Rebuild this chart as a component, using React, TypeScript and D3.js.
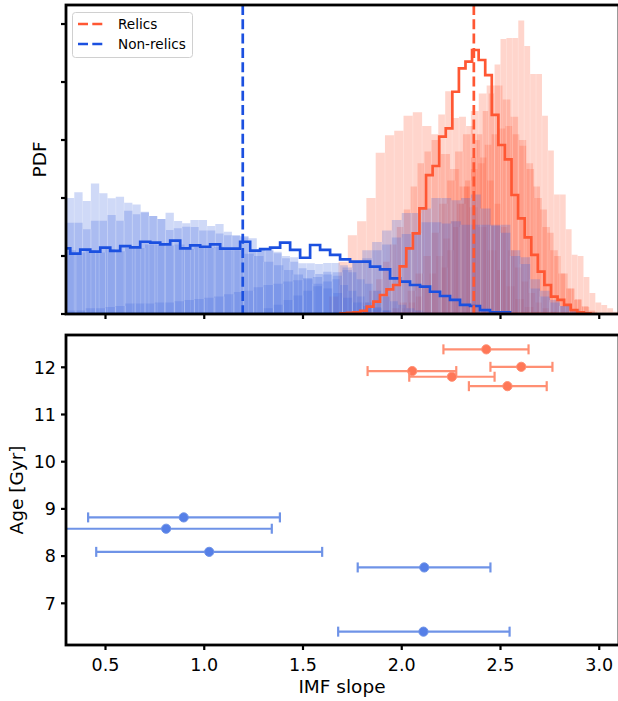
import React from 'react';
import * as d3 from 'd3';

// ---------------- data ----------------
const X_TICKS = [0.5, 1.0, 1.5, 2.0, 2.5, 3.0];
const AGE_TICKS = [7, 8, 9, 10, 11, 12];
const PDF_TICKS = [0, 0.5, 1.0, 1.5, 2.0, 2.5];

const SERIES = ['Relics', 'Non-relics'];
const RELIC_MEDIAN = 2.365;
const NONRELIC_MEDIAN = 1.195;

// bottom panel: IMF slope with error ranges vs age
const relicIMF = [2.428, 2.605, 2.053, 2.254, 2.535];
const relicIMFLo = [2.211, 2.449, 1.827, 2.038, 2.34];
const relicIMFHi = [2.642, 2.763, 2.276, 2.47, 2.734];
const relicAge = [12.38, 12.01, 11.92, 11.8, 11.6];

const nonRelicIMF = [0.896, 0.807, 1.025, 2.114, 2.11];
const nonRelicIMFLo = [0.412, 0.27, 0.453, 1.777, 1.678];
const nonRelicIMFHi = [1.383, 1.342, 1.597, 2.449, 2.546];
const nonRelicAge = [8.82, 8.58, 8.09, 7.76, 6.4];

// top panel: individual posterior histograms (bin start, bin width, densities)
const relicHistStart = [2.0, 1.633, 1.8, 1.95, 2.2];
const relicHistWidth = [0.035, 0.047, 0.035, 0.04, 0.03];
const relicPdfA = [0.05, 0.1, 0.15, 0.25, 0.35, 0.5, 0.65, 0.8, 0.95, 1.1, 1.25, 1.3, 1.46, 1.55, 1.6, 1.62, 1.55, 1.45, 1.3, 1.1, 0.9, 0.7, 0.5, 0.35, 0.22, 0.13, 0.07, 0.03];
const relicPdfB = [0.15, 0.45, 0.68, 0.8, 1.0, 1.39, 1.54, 1.58, 1.71, 1.74, 1.62, 1.5, 1.38, 1.25, 1.1, 0.92, 0.75, 0.55, 0.38, 0.24, 0.13, 0.06, 0.02];
const relicPdfC = [0.1, 0.2, 0.3, 0.45, 0.6, 0.75, 0.9, 1.1, 1.3, 1.4, 1.55, 1.72, 1.92, 1.69, 1.7, 1.62, 1.5, 1.35, 1.15, 0.95, 0.75, 0.55, 0.4, 0.28, 0.18, 0.1, 0.05, 0.02];
const relicPdfD = [0.05, 0.1, 0.2, 0.35, 0.5, 0.7, 0.95, 1.15, 1.4, 1.55, 1.75, 1.9, 1.97, 1.97, 1.85, 1.7, 1.5, 1.25, 1.0, 0.75, 0.55, 0.35, 0.22, 0.12, 0.06, 0.02];
const relicPdfE = [0.4, 0.55, 0.75, 0.95, 1.15, 1.35, 1.55, 1.75, 1.9, 2.15, 2.37, 2.38, 2.38, 2.53, 2.31, 2.07, 2.07, 1.71, 1.41, 1.03, 1.03, 0.73, 0.51, 0.5, 0.32, 0.18, 0.1, 0.078, 0.05, 0.02];

const nonRelicHistStart = [0.3, 0.3, 0.3, 1.3, 0.3];
const nonRelicHistWidth = [0.042, 0.042, 0.05, 0.05, 0.05];
const nonRelicPdfA = [1.0, 1.049, 0.974, 1.126, 1.04, 0.997, 1.01, 0.96, 0.945, 0.882, 0.845, 0.819, 0.873, 0.802, 0.782, 0.81, 0.81, 0.759, 0.776, 0.71, 0.681, 0.661, 0.652, 0.558, 0.558, 0.537, 0.5, 0.49, 0.437, 0.437, 0.43, 0.44, 0.44, 0.42, 0.36, 0.3, 0.26, 0.2, 0.15, 0.11, 0.08, 0.05, 0.03, 0.015];
const nonRelicPdfB = [0.787, 0.787, 0.73, 0.804, 0.804, 0.853, 0.804, 0.89, 0.86, 0.876, 0.845, 0.819, 0.724, 0.74, 0.753, 0.75, 0.72, 0.72, 0.695, 0.68, 0.672, 0.672, 0.552, 0.552, 0.545, 0.523, 0.48, 0.45, 0.394, 0.379, 0.345, 0.365, 0.3, 0.25, 0.2, 0.15, 0.1, 0.06, 0.03];
const nonRelicPdfC = [0.55, 0.53, 0.55, 0.53, 0.56, 0.54, 0.57, 0.57, 0.6, 0.6, 0.59, 0.6, 0.56, 0.58, 0.57, 0.58, 0.55, 0.55, 0.52, 0.5, 0.45, 0.42, 0.38, 0.34, 0.3, 0.26, 0.22, 0.18, 0.14, 0.1, 0.07, 0.05, 0.03, 0.015];
const nonRelicPdfD = [0.05, 0.08, 0.12, 0.16, 0.2, 0.24, 0.28, 0.33, 0.38, 0.44, 0.55, 0.62, 0.72, 0.81, 0.87, 0.87, 0.91, 1.0, 1.0, 0.98, 1.0, 1.03, 0.91, 0.77, 0.77, 0.55, 0.49, 0.22, 0.15, 0.1, 0.07, 0.03];
const nonRelicPdfE = [0.03, 0.03, 0.05, 0.05, 0.06, 0.07, 0.09, 0.09, 0.09, 0.1, 0.1, 0.11, 0.12, 0.13, 0.14, 0.15, 0.17, 0.19, 0.2, 0.23, 0.25, 0.26, 0.28, 0.29, 0.31, 0.32, 0.34, 0.36, 0.4, 0.44, 0.48, 0.55, 0.6, 0.66, 0.69, 0.7, 0.79, 0.79, 0.78, 0.8, 0.77, 0.77, 0.77, 0.76, 0.7, 0.5, 0.43, 0.3, 0.2, 0.12, 0.07, 0.04, 0.02];

// combined step histograms
const relicStepStart = 1.69;
const relicStepWidth = 0.0333;
const relicStepPdf = [0.005, 0.01, 0.015, 0.028, 0.063, 0.106, 0.164, 0.213, 0.25, 0.41, 0.566, 0.695, 0.911, 1.198, 1.276, 1.53, 1.6, 1.916, 2.118, 2.175, 2.276, 2.19, 2.06, 1.716, 1.457, 1.333, 1.026, 0.825, 0.661, 0.509, 0.365, 0.25, 0.149, 0.121, 0.078, 0.034, 0.014, 0.005];
const nonRelicStepStart = 0.271;
const nonRelicStepWidth = 0.0506;
const nonRelicStepPdf = [0.566, 0.52, 0.555, 0.537, 0.572, 0.545, 0.586, 0.575, 0.623, 0.615, 0.6, 0.632, 0.566, 0.592, 0.58, 0.6, 0.563, 0.563, 0.623, 0.546, 0.56, 0.572, 0.615, 0.552, 0.485, 0.595, 0.552, 0.509, 0.471, 0.451, 0.451, 0.408, 0.385, 0.307, 0.279, 0.25, 0.236, 0.192, 0.155, 0.121, 0.078, 0.069, 0.034, 0.014, 0.014];

const relicHists = [relicPdfA, relicPdfB, relicPdfC, relicPdfD, relicPdfE];
const nonRelicHists = [nonRelicPdfA, nonRelicPdfB, nonRelicPdfC, nonRelicPdfD, nonRelicPdfE];

// ---------------- styles ----------------
const ORANGE = '#ff5733';
const BLUE = '#4169e1';
const BLUE_LINE = '#1b50e0';
const FONT = 'DejaVu Sans, Verdana, sans-serif';

const W = 618;
const H = 701;
const L = 66;
const R = 619;
const TOP1 = 5;
const BOT1 = 314;
const TOP2 = 335;
const BOT2 = 645;

const x = d3.scaleLinear().domain([0.3, 3.1]).range([L, R]);
const yPdf = d3.scaleLinear().domain([0, 2.664]).range([BOT1, TOP1]);
const yAge = d3.scaleLinear().domain([6.117, 12.684]).range([BOT2, TOP2]);

function histArea(start: number, width: number, h: number[]) {
  let d = `M${x(start)},${yPdf(0)}`;
  h.forEach((v, i) => {
    const x0 = x(start + i * width);
    const x1 = x(start + (i + 1) * width);
    d += `L${x0},${yPdf(v)}L${x1},${yPdf(v)}`;
  });
  d += `L${x(start + h.length * width)},${yPdf(0)}Z`;
  return d;
}

function seams(start: number, width: number, h: number[]) {
  const out: { x: number; y: number }[] = [];
  for (let i = 1; i < h.length; i++) {
    out.push({ x: x(start + i * width), y: yPdf(Math.min(h[i - 1], h[i])) });
  }
  return out;
}

function Hist({ start, width, h, color }: { start: number; width: number; h: number[]; color: string }) {
  return (
    <g>
      <path d={histArea(start, width, h)} fill={color} fillOpacity={0.25} />
      {seams(start, width, h).map((s, i) => (
        <line key={i} x1={s.x} x2={s.x} y1={yPdf(0)} y2={s.y} stroke="#fff" strokeOpacity={0.3} strokeWidth={0.8} />
      ))}
    </g>
  );
}

function ErrBars({ c, lo, hi, age, line, marker }: any) {
  return (
    <g>
      {c.map((v: number, i: number) => {
        const yy = yAge(age[i]);
        return (
          <g key={i}>
            <line x1={x(lo[i])} x2={x(hi[i])} y1={yy} y2={yy} stroke={line} strokeWidth={2.2} />
            <line x1={x(lo[i])} x2={x(lo[i])} y1={yy - 5} y2={yy + 5} stroke={line} strokeWidth={2.2} />
            <line x1={x(hi[i])} x2={x(hi[i])} y1={yy - 5} y2={yy + 5} stroke={line} strokeWidth={2.2} />
            <circle cx={x(v)} cy={yy} r={4.6} fill={marker} stroke={line} strokeWidth={1} />
          </g>
        );
      })}
    </g>
  );
}

export default function App() {
  return (
    <svg width={W} height={H} style={{ position: 'absolute', left: 0, top: 0, background: '#fff' }} fontFamily={FONT}>
      <defs>
        <clipPath id="clipTop">
          <rect x={L} y={TOP1} width={R - L} height={BOT1 - TOP1} />
        </clipPath>
        <clipPath id="clipBot">
          <rect x={L} y={TOP2} width={R - L} height={BOT2 - TOP2} />
        </clipPath>
      </defs>
      <rect x={0} y={0} width={W} height={H} fill="#fff" />

      {/* ---------- top panel ---------- */}
      <g clipPath="url(#clipTop)">
        {relicHists.map((h, i) => (
          <Hist key={'r' + i} start={relicHistStart[i]} width={relicHistWidth[i]} h={h} color={ORANGE} />
        ))}
        {nonRelicHists.map((h, i) => (
          <Hist key={'n' + i} start={nonRelicHistStart[i]} width={nonRelicHistWidth[i]} h={h} color={BLUE} />
        ))}
        <path d={histArea(nonRelicStepStart, nonRelicStepWidth, nonRelicStepPdf)} fill="none" stroke={BLUE_LINE} strokeWidth={2.7} strokeLinejoin="miter" />
        <path d={histArea(relicStepStart, relicStepWidth, relicStepPdf)} fill="none" stroke={ORANGE} strokeWidth={2.7} strokeLinejoin="miter" />
        <line x1={x(RELIC_MEDIAN)} x2={x(RELIC_MEDIAN)} y1={TOP1} y2={BOT1} stroke={ORANGE} strokeWidth={2.7} strokeDasharray="10,4.3" />
        <line x1={x(NONRELIC_MEDIAN)} x2={x(NONRELIC_MEDIAN)} y1={TOP1} y2={BOT1} stroke={BLUE_LINE} strokeWidth={2.7} strokeDasharray="10,4.3" />
      </g>
      {/* ticks top */}
      {X_TICKS.map((t) => (
        <line key={'xt1' + t} x1={x(t)} x2={x(t)} y1={BOT1} y2={BOT1 + 5} stroke="#000" strokeWidth={2.2} />
      ))}
      {PDF_TICKS.map((t) => (
        <line key={'yt1' + t} x1={L - 5} x2={L} y1={yPdf(t)} y2={yPdf(t)} stroke="#000" strokeWidth={2.2} />
      ))}
      <rect x={L} y={TOP1} width={R - L} height={BOT1 - TOP1} fill="none" stroke="#000" strokeWidth={2.8} />
      <text transform={`translate(46,${(TOP1 + BOT1) / 2}) rotate(-90)`} textAnchor="middle" fontSize={18.5} fill="#000">PDF</text>

      {/* legend */}
      <g>
        <rect x={72.5} y={12.5} width={120} height={45} rx={3} fill="#fff" fillOpacity={0.85} stroke="#d0d0d0" strokeWidth={1} />
        <line x1={78} x2={105} y1={24} y2={24} stroke={ORANGE} strokeWidth={2.7} strokeDasharray="10,4.3" />
        <text x={118} y={29} fontSize={13.6} fill="#000">{SERIES[0]}</text>
        <line x1={78} x2={105} y1={44} y2={44} stroke={BLUE_LINE} strokeWidth={2.7} strokeDasharray="10,4.3" />
        <text x={118} y={49} fontSize={13.6} fill="#000">{SERIES[1]}</text>
      </g>

      {/* ---------- bottom panel ---------- */}
      <g clipPath="url(#clipBot)">
        <g opacity={0.75}>
          <ErrBars c={relicIMF} lo={relicIMFLo} hi={relicIMFHi} age={relicAge} line="#ff6a45" marker="#ff4a1f" />
          <ErrBars c={nonRelicIMF} lo={nonRelicIMFLo} hi={nonRelicIMFHi} age={nonRelicAge} line="#3f70e0" marker="#1d55e0" />
        </g>
      </g>
      {X_TICKS.map((t) => (
        <g key={'xt2' + t}>
          <line x1={x(t)} x2={x(t)} y1={BOT2} y2={BOT2 + 5} stroke="#000" strokeWidth={2.2} />
          <text x={x(t)} y={671} textAnchor="middle" fontSize={17.5} fill="#000">{t.toFixed(1)}</text>
        </g>
      ))}
      {AGE_TICKS.map((t) => (
        <g key={'yt2' + t}>
          <line x1={L - 5} x2={L} y1={yAge(t)} y2={yAge(t)} stroke="#000" strokeWidth={2.2} />
          <text x={L - 10} y={yAge(t) + 6.3} textAnchor="end" fontSize={17.5} fill="#000">{t}</text>
        </g>
      ))}
      <rect x={L} y={TOP2} width={R - L} height={BOT2 - TOP2} fill="none" stroke="#000" strokeWidth={2.8} />
      <text transform={`translate(23,${(TOP2 + BOT2) / 2}) rotate(-90)`} textAnchor="middle" fontSize={18.5} fill="#000">Age [Gyr]</text>
      <text x={(L + 619) / 2 - 0.5} y={693} textAnchor="middle" fontSize={18.5} fill="#000">IMF slope</text>
    </svg>
  );
}
